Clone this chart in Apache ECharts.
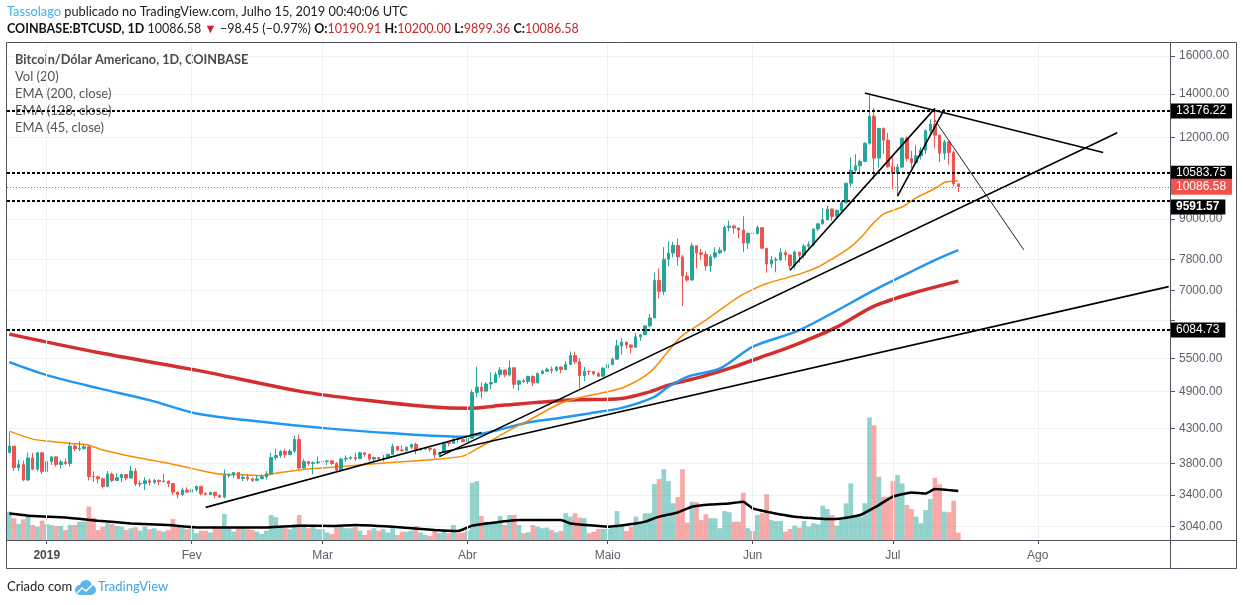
<!DOCTYPE html>
<html><head><meta charset="utf-8">
<script src="https://cdn.jsdelivr.net/npm/echarts@6/dist/echarts.min.js"></script>
<style>html,body{margin:0;padding:0;background:#fff;}#c{width:1244px;height:605px;}</style>
</head><body><div id="c"></div>
<script>
// ---------------- DATA ----------------
const startDate = '2018-12-24';
const endDate = '2019-08-29';
// daily candles [open, high, low, close] starting at startDate
const ohlc = [
// Dec 24-31 2018
[3948,4240,3940,4040],[4040,4040,3700,3745],[3745,3850,3700,3785],[3785,3840,3570,3585],[3585,3950,3570,3875],[3875,3945,3710,3725],[3725,3960,3700,3945],[3945,3960,3660,3695],
// Jan 2019
[3695,3845,3630,3825],[3825,3900,3780,3890],[3890,3895,3760,3785],[3785,3850,3735,3820],[3820,3870,3780,3800],[3800,4100,3760,4040],[4040,4070,3970,4000],[4000,4110,3970,4005],[4005,4070,3990,4030],[4030,4050,3580,3630],
[3630,3695,3560,3625],[3625,3640,3545,3600],[3600,3615,3480,3505],[3505,3700,3500,3660],[3660,3680,3560,3580],[3580,3675,3575,3615],[3615,3665,3560,3655],[3655,3660,3580,3610],[3610,3770,3605,3700],[3700,3740,3510,3535],
[3535,3580,3500,3540],[3540,3620,3460,3575],[3575,3605,3515,3555],[3555,3600,3535,3580],[3580,3590,3520,3565],[3565,3665,3555,3570],[3570,3580,3495,3540],[3540,3545,3400,3435],[3435,3440,3360,3405],[3405,3490,3390,3460],[3460,3495,3430,3435],
// Feb
[3435,3490,3410,3465],[3465,3515,3440,3505],[3505,3505,3395,3415],[3415,3435,3395,3405],[3405,3440,3400,3430],[3430,3440,3360,3395],[3395,3410,3370,3375],[3375,3720,3360,3645],[3645,3665,3610,3650],[3650,3690,3610,3680],
[3680,3690,3595,3605],[3605,3660,3570,3620],[3620,3655,3575,3600],[3600,3615,3560,3580],[3580,3650,3575,3600],[3600,3660,3595,3625],[3625,3700,3590,3665],[3665,3945,3655,3880],[3880,4000,3845,3910],[3910,3985,3880,3965],
[3965,4005,3875,3920],[3920,3995,3915,3970],[3970,4190,3945,4135],[4135,4210,3720,3740],[3740,3860,3735,3825],[3825,3835,3770,3800],[3800,3830,3660,3810],[3810,3895,3790,3820],
// Mar
[3820,3875,3810,3825],[3825,3845,3780,3835],[3835,3845,3780,3800],[3800,3820,3690,3715],[3715,3880,3705,3860],[3860,3910,3820,3870],[3870,3900,3850,3880],[3880,3950,3835,3865],[3865,3960,3860,3945],[3945,3950,3890,3925],
[3925,3935,3830,3860],[3860,3895,3815,3880],[3880,3885,3845,3865],[3865,3915,3825,3875],[3875,3930,3870,3925],[3925,4075,3920,4035],[4035,4040,3970,3985],[3985,4050,3960,3975],[3975,4030,3970,4025],[4025,4070,3995,4065],
[4065,4090,3925,3985],[3985,4010,3970,4000],[4000,4025,3990,4010],[4010,4015,3960,3995],[3995,4005,3870,3915],[3915,3955,3895,3950],[3950,4100,3940,4090],[4090,4100,4040,4080],[4080,4170,4075,4140],[4140,4165,4090,4135],[4135,4150,4095,4105],
// Apr
[4105,4165,4080,4155],[4155,4930,4150,4880],[4880,5345,4800,4975],[4975,5060,4780,4905],[4905,5060,4900,5030],[5030,5240,4945,5055],[5055,5250,5050,5200],[5200,5340,5140,5285],[5285,5290,5150,5195],[5195,5470,5165,5325],
[5325,5335,4950,5025],[5025,5105,4910,5085],[5085,5120,5050,5075],[5075,5180,5030,5165],[5165,5190,4990,5050],[5050,5240,5040,5220],[5220,5290,5200,5260],[5260,5330,5250,5300],[5300,5350,5220,5280],[5280,5360,5255,5340],
[5340,5350,5225,5295],[5295,5450,5280,5390],[5390,5640,5380,5560],[5560,5640,5395,5440],[5440,5510,4950,5180],[5180,5340,5080,5260],[5260,5275,5190,5255],[5255,5270,5185,5215],[5215,5250,5150,5170],[5170,5335,5160,5320],
// May
[5320,5390,5305,5385],[5385,5520,5380,5490],[5490,5880,5480,5755],[5755,5910,5580,5830],[5830,5840,5700,5770],[5770,5790,5600,5725],[5725,6020,5720,5940],[5940,6000,5860,5985],[5985,6180,5980,6175],[6175,6440,6140,6350],
[6350,7450,6350,7250],[7250,7560,6800,6975],[6975,8150,6880,7810],[7810,8320,7620,7985],[7985,8300,7860,8200],[8200,8400,7640,7875],[7875,7930,6620,7360],[7360,7460,7220,7260],[7260,8275,7240,8190],[8190,8195,7560,7990],
[7990,8100,7800,7950],[7950,8040,7500,7630],[7630,7950,7475,7880],[7880,8150,7820,7990],[7990,8150,7950,8060],[8060,8800,8010,8740],[8740,8950,8620,8780],[8780,8820,8550,8720],[8720,8730,8410,8660],[8660,9090,8015,8270],[8270,8580,8100,8560],
// Jun
[8560,8625,8470,8550],[8550,8800,8530,8735],[8735,8740,8100,8120],[8120,8125,7450,7680],[7680,7900,7580,7790],[7790,7870,7460,7800],[7800,8120,7765,7995],[7995,8060,7780,7930],[7930,7940,7530,7630],[7630,8050,7550,8010],
[8010,8010,7710,7920],[7920,8240,7830,8180],[8180,8320,8060,8230],[8230,8700,8170,8690],[8690,8880,8630,8850],[8850,9350,8830,8980],[8980,9440,8965,9325],[9325,9340,8950,9080],[9080,9310,9040,9275],[9275,9600,9240,9530],
[9530,10230,9530,10215],[10215,11200,10100,10690],[10690,11320,10560,10860],[10860,11100,10550,11030],[11030,11800,11000,11760],[11760,13980,11700,12940],[12940,13320,10350,11160],[11160,12420,10800,12390],[12390,12440,11330,11890],[11890,12200,10770,10830],
// Jul 1-15
[10830,11200,10000,10590],[10590,10930,9750,10810],[10810,11990,10800,11970],[11970,12050,11030,11150],[11150,11450,10770,10980],[10980,11680,10980,11250],[11250,11600,11100,11480],[11480,12350,11320,12290],[12290,12800,12140,12580],[12580,13180,11570,12100],
[12100,12120,11000,11350],[11350,11900,11100,11810],[11810,11840,10900,11380],[11380,11450,10100,10190.91],[10190.91,10200.00,9899.36,10086.58]
];
// daily volume (thousand BTC) starting at startDate
const volume = [
14.2,10.9,8,10.4,12.5,7.5,6.7,9.7,
8,7.5,7,7,5,7.5,7.5,9.2,9.2,16.7,11.2,5,6.7,8.4,8,7,6.7,5,5.9,6.4,4.7,6.7,5.4,5.9,4.7,4.2,5,10.5,6.7,5.9,5.4,
5.9,3.4,4.7,4.7,3.7,7,5.9,13,5.9,4.2,5.9,5.9,5.4,5,4.2,3,4.7,12.5,11.4,6.4,5.9,5.4,8,12.5,8,5.9,7,5.4,
5.4,3.7,3,6.4,7.5,5.9,5.9,6.7,4.7,2.5,5,5.9,4.7,5.4,3.7,5.9,2.5,4.2,4.2,4.7,7,3.7,2.5,2,4.7,3.4,5.4,3.4,7.5,3.4,3.7,
4.7,28.7,29.5,12,9.2,9,9.5,12,7.5,12.5,12.5,7.5,3.4,3.9,7.5,6.7,5.9,6.2,5,3.9,4.5,13.4,11.7,13.4,11.2,10.9,3.4,4.2,5.5,5.5,
5.5,6.2,14.5,7.2,4.5,6.7,11.7,9.5,13.4,13.4,28,30.5,35.5,29.5,18.4,21.5,35.5,8.7,19.2,18.9,10,12.9,10.9,10.9,5.9,14.5,13.9,9.2,9.2,23.7,5.9,
4.5,12.5,13.4,22.9,10,9.5,9.5,4.2,5.5,7.2,6.2,9.5,6.7,8.4,7.9,17.2,15.5,12.5,7.2,10,18.4,28.4,12.5,11.7,18.4,61.4,57.5,31.7,21.7,21.7,
29.5,32.5,28.4,17.5,15.5,11.7,8.4,15,20.5,31.2,27.9,14.2,13.9,19.7,3.7
];
const volMA20 = [['2018-12-24',13.3],['2018-12-29',12.0],['2019-01-05',11.3],['2019-01-12',9.7],['2019-01-19',8.3],['2019-01-27',7.5],['2019-02-03',6.2],['2019-02-10',6.2],['2019-02-17',6.3],['2019-02-24',7.2],['2019-03-03',7.0],['2019-03-08',7.5],['2019-03-18',6.3],['2019-03-25',5.0],['2019-03-30',4.5],['2019-04-02',7.2],['2019-04-07',8.8],['2019-04-12',10.0],['2019-04-21',10.0],['2019-04-23',8.3],['2019-05-01',6.7],['2019-05-07',8.3],['2019-05-09',9.2],['2019-05-12',11.7],['2019-05-16',13.8],['2019-05-19',16.7],['2019-05-23',17.8],['2019-05-27',18.3],['2019-05-30',19.2],['2019-06-01',15.8],['2019-06-04',14.2],['2019-06-10',11.7],['2019-06-17',10.5],['2019-06-20',10.8],['2019-06-24',12.5],['2019-06-28',17.5],['2019-07-01',21.7],['2019-07-05',23.8],['2019-07-08',23.3],['2019-07-10',25.5],['2019-07-15',24.5]];
const ema200 = [['2018-12-24',5997],['2019-01-12',5620],['2019-02-02',5282],['2019-02-24',4905],['2019-03-10',4752],['2019-03-24',4641],['2019-04-01',4616],['2019-04-09',4669],['2019-04-23',4752],['2019-05-04',4781],['2019-05-10',4893],['2019-05-14',5010],['2019-05-21',5159],['2019-05-28',5344],['2019-06-04',5568],['2019-06-10',5770],['2019-06-19',6147],['2019-06-27',6619],['2019-07-06',6955],['2019-07-15',7230]];
const ema128 = [['2018-12-24',5434],['2019-01-01',5190],['2019-01-12',4957],['2019-01-23',4752],['2019-02-02',4534],['2019-02-16',4402],['2019-03-02',4301],['2019-03-16',4226],['2019-03-31',4176],['2019-04-06',4249],['2019-04-13',4377],['2019-04-20',4455],['2019-04-27',4534],['2019-05-04',4624],['2019-05-11',4808],['2019-05-14',4981],['2019-05-18',5159],['2019-05-25',5314],['2019-06-01',5735],['2019-06-11',6082],['2019-06-27',7003],['2019-07-02',7299],['2019-07-10',7785],['2019-07-15',8064]];
const ema45 = [['2018-12-24',4259],['2018-12-29',4141],['2019-01-01',4112],['2019-01-06',4079],['2019-01-10',4054],['2019-01-13',3984],['2019-01-20',3883],['2019-01-27',3802],['2019-02-01',3735],['2019-02-07',3661],['2019-02-11',3655],['2019-02-16',3639],['2019-02-19',3670],['2019-02-24',3715],['2019-03-03',3750],['2019-03-10',3785],['2019-03-17',3820],['2019-03-24',3850],['2019-03-31',3900],['2019-04-03',4000],['2019-04-10',4275],['2019-04-14',4420],['2019-04-21',4700],['2019-04-27',4830],['2019-05-01',4893],['2019-05-05',4990],['2019-05-10',5240],['2019-05-14',5650],['2019-05-17',5970],['2019-05-22',6301],['2019-05-29',6840],['2019-06-01',7020],['2019-06-04',7171],['2019-06-11',7411],['2019-06-15',7600],['2019-06-18',7820],['2019-06-22',8159],['2019-06-25',8560],['2019-06-26',8740],['2019-06-29',9160],['2019-07-03',9395],['2019-07-06',9700],['2019-07-10',10024],['2019-07-12',10240],['2019-07-13',10280],['2019-07-15',10290]];
const levels = [13176.22, 10583.75, 9591.57, 6084.73];
const lastPrice = 10086.58;
const gridTicks = [3040,3400,3800,4300,4900,5500,6300,7000,7800,9000,12000,14000,16000];
const priceLabels = [3040,3400,3800,4300,4900,5500,7000,7800,9000,12000,14000,16000];
const monthNames = ['2019','Fev','Mar','Abr','Maio','Jun','Jul','Ago'];
const monthStarts = ['2019-01-01','2019-02-01','2019-03-01','2019-04-01','2019-05-01','2019-06-01','2019-07-01','2019-08-01'];
const trendLines = [
  [['2019-02-04',3255],['2019-04-04',4238]],
  [['2019-03-26',3893],['2019-08-18',12200]],
  [['2019-03-26',3943],['2019-08-29',7091]],
  [['2019-06-09',7515],['2019-07-10',13300]],
  [['2019-07-02',9757],['2019-07-12',13250]],
  [['2019-06-25',14043],['2019-08-15',11381]]
];
const thinLine = [['2019-07-10',12755],['2019-07-29',8075]];

// ---------------- BUILD ----------------
function buildDates(s, e) {
  const out = [];
  let t = Date.parse(s + 'T00:00:00Z');
  const end = Date.parse(e + 'T00:00:00Z');
  while (t <= end) { out.push(new Date(t).toISOString().slice(0, 10)); t += 86400000; }
  return out;
}
const dates = buildDates(startDate, endDate);
const UP = '#26a69a', DOWN = '#ef5350';
const candles = ohlc.map(r => [r[0], r[3], r[2], r[1]]);
const volData = volume.map((v, i) => ({
  value: v,
  itemStyle: { color: ohlc[i][3] >= ohlc[i][0] ? 'rgba(38,166,154,0.5)' : 'rgba(239,83,80,0.5)' }
}));
const FONT = 'Liberation Sans';
const lineOpts = { showSymbol: false, smooth: 0.3, silent: true };

const series = [
  { type: 'line', data: [], silent: true, z: 0,
    markLine: { silent: true, symbol: 'none', animation: false, label: { show: false },
      lineStyle: { color: '#edf1f5', width: 1, type: 'solid' },
      data: monthStarts.map(d => ({ xAxis: d })) } },
  { type: 'bar', yAxisIndex: 1, data: volData, barCategoryGap: '0%', barGap: '0%', silent: true, z: 1 },
  { type: 'line', yAxisIndex: 1, data: volMA20, showSymbol: false, smooth: 0.12, silent: true, lineStyle: { color: '#000', width: 2.5 }, z: 2 },
  Object.assign({ type: 'line', data: ema200, lineStyle: { color: '#d32f2f', width: 3.5 }, z: 3 }, lineOpts),
  Object.assign({ type: 'line', data: ema128, lineStyle: { color: '#2196f3', width: 2.5 }, z: 3 }, lineOpts),
  Object.assign({ type: 'line', data: ema45, lineStyle: { color: '#fb8c00', width: 1.5 }, z: 3 }, lineOpts),
  { type: 'candlestick', data: candles, barWidth: 3, silent: true, z: 4,
    itemStyle: { color: UP, color0: DOWN, borderColor: UP, borderColor0: DOWN, borderWidth: 1 } },
];
trendLines.forEach(l => series.push({ type: 'line', data: l, showSymbol: false, silent: true, z: 6,
  lineStyle: { color: '#000', width: 1.6 } }));
series.push({ type: 'line', data: thinLine, showSymbol: false, silent: true, z: 6, lineStyle: { color: '#222', width: 1 } });
series.push({ type: 'line', data: [], silent: true, z: 7,
  markLine: { silent: true, symbol: 'none', animation: false,
    data: [
      ...levels.map(v => ({ yAxis: v,
        lineStyle: { color: '#000', width: 2, type: [3, 2] },
        label: { show: true, position: 'end', distance: 0, formatter: () => v.toFixed(2),
          color: '#fff', backgroundColor: '#000', padding: [2, 6, 1, 5], fontSize: 12, fontFamily: FONT,
          fontWeight: v === 9591.57 ? 'bold' : 'normal', offset: v === 9591.57 ? [0, 6] : [0, 0] } })),
      { yAxis: lastPrice, lineStyle: { color: '#ef5350', width: 1, type: [1, 2] },
        label: { show: true, position: 'end', distance: 0, formatter: () => lastPrice.toFixed(2),
          color: '#fff', backgroundColor: '#ef5350', padding: [2, 6, 2, 5], fontSize: 12, fontFamily: FONT } }
    ] } });

const chart = echarts.init(document.getElementById('c'), null, { renderer: 'canvas' });
chart.setOption({
  animation: false,
  backgroundColor: '#fff',
  grid: { left: 7, right: 73, top: 43, bottom: 65, containLabel: false },
  xAxis: {
    type: 'category', data: dates, boundaryGap: true,
    axisLine: { show: false },
    axisTick: { show: true, alignWithLabel: true, interval: (i, v) => v.endsWith('-01'), length: 4, lineStyle: { color: '#50535e' } },
    axisLabel: { interval: (i, v) => v.endsWith('-01'), margin: 10, color: '#5d606b', fontSize: 12, fontFamily: FONT,
      formatter: v => { const m = +v.slice(5, 7); return m === 1 ? '{y|2019}' : monthNames[m - 1]; },
      rich: { y: { fontWeight: 'bold', color: '#4a4a4a', fontSize: 12, fontFamily: FONT } } },
    splitLine: { show: false }
  },
  yAxis: [
    { type: 'log', logBase: 10, position: 'right', min: 2901, max: 16750,
      axisLine: { show: false },
      axisTick: { show: true, length: 4, customValues: gridTicks, lineStyle: { color: '#50535e' } },
      axisLabel: { customValues: priceLabels, formatter: v => Number(v).toFixed(2), color: '#5d606b', fontSize: 12, fontFamily: FONT, margin: 8 },
      splitLine: { show: true, lineStyle: { color: '#edf1f5', width: 1 } } },
    { type: 'value', min: 0, max: 249, show: false, splitLine: { show: false } }
  ],
  series,
  graphic: [
    { type: 'rect', shape: { x: 6.5, y: 42.5, width: 1230, height: 526 }, style: { fill: 'none', stroke: '#50535e', lineWidth: 1 }, z: 100, silent: true },
    { type: 'line', shape: { x1: 6.5, y1: 540.5, x2: 1236.5, y2: 540.5 }, style: { stroke: '#50535e', lineWidth: 1 }, z: 100, silent: true },
    { type: 'line', shape: { x1: 1170.5, y1: 42.5, x2: 1170.5, y2: 568.5 }, style: { stroke: '#50535e', lineWidth: 1 }, z: 100, silent: true },
    { type: 'text', x: 7, y: 12, z: 100, style: { text: '{a|Tassolago} publicado no TradingView.com, Julho 15, 2019 00:40:06 UTC',
      font: '12.8px Lato', fill: '#222', verticalAlign: 'middle',
      rich: { a: { fill: '#3bb3e4', font: '12.8px Lato' } } } },
    { type: 'text', x: 7, y: 29, z: 100, style: {
      text: '{b|COINBASE:BTCUSD, 1D} 10086.58 {r|▼} −98.45 (−0.97%) {b|O:}{r|10190.91} {b|H:}{r|10200.00} {b|L:}{r|9899.36} {b|C:}{r|10086.58}',
      font: '12.5px Lato', fill: '#222', verticalAlign: 'middle',
      rich: { b: { font: 'bold 12.5px Lato', fill: '#111' }, r: { font: '12.5px Lato', fill: '#c62828' } } } },
    { type: 'text', x: 15, y: 60, z: 1, style: { text: 'Bitcoin/Dólar Americano, 1D, COINBASE', font: 'bold 12.7px Lato', fill: '#4a4a4a', verticalAlign: 'middle' } },
    { type: 'text', x: 15, y: 77, z: 1, style: { text: 'Vol (20)', font: '13px Lato', fill: '#555', verticalAlign: 'middle' } },
    { type: 'text', x: 15, y: 94, z: 1, style: { text: 'EMA (200, close)', font: '13px Lato', fill: '#555', verticalAlign: 'middle' } },
    { type: 'text', x: 15, y: 111, z: 1, style: { text: 'EMA (128, close)', font: '13px Lato', fill: '#555', verticalAlign: 'middle' } },
    { type: 'text', x: 15, y: 128, z: 1, style: { text: 'EMA (45, close)', font: '13px Lato', fill: '#555', verticalAlign: 'middle' } },
    { type: 'text', x: 7, y: 587, z: 100, style: { text: 'Criado com', font: '13px Lato', fill: '#222', verticalAlign: 'middle' } },
    { type: 'circle', shape: { cx: 80, cy: 590, r: 5 }, style: { fill: '#5db5e8' }, z: 100, silent: true },
    { type: 'circle', shape: { cx: 86, cy: 586, r: 6 }, style: { fill: '#5db5e8' }, z: 100, silent: true },
    { type: 'circle', shape: { cx: 91, cy: 590, r: 5 }, style: { fill: '#5db5e8' }, z: 100, silent: true },
    { type: 'rect', shape: { x: 80, y: 589, width: 11, height: 6 }, style: { fill: '#5db5e8' }, z: 100, silent: true },
    { type: 'polyline', shape: { points: [[77, 593], [82, 588], [86, 591], [92, 585]] }, style: { stroke: '#fff', lineWidth: 1.5, fill: null }, z: 101, silent: true },
    { type: 'text', x: 98, y: 587, z: 100, style: { text: 'TradingView', font: '13px Lato', fill: '#3ba7df', verticalAlign: 'middle' } }
  ]
});
</script></body></html>
